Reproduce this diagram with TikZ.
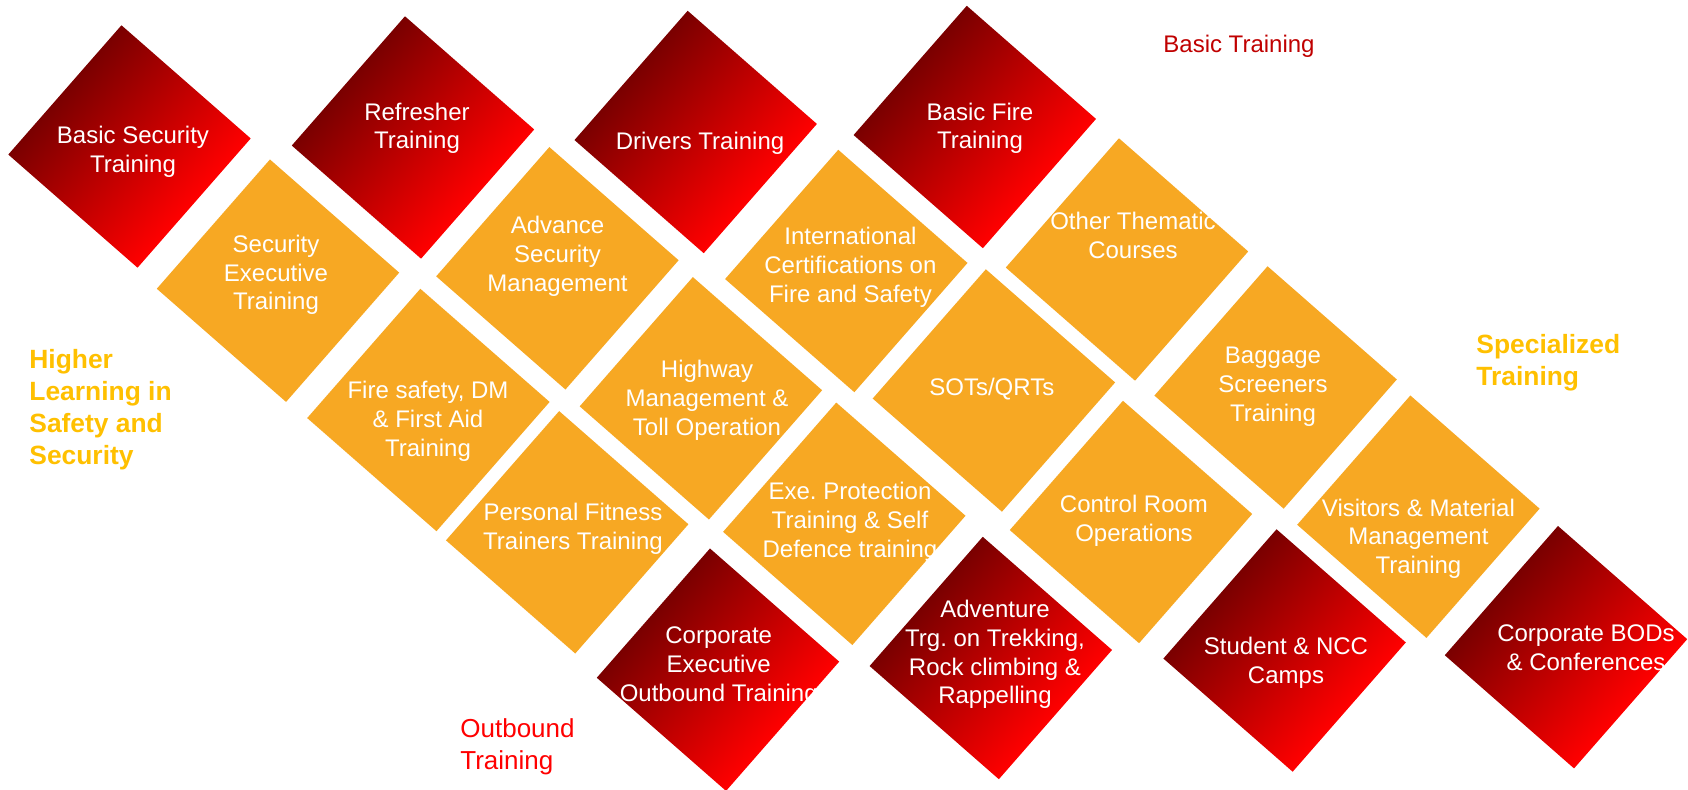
\documentclass[tikz,border=0pt]{standalone}
\usepackage{fontspec}
\setmainfont{Liberation Sans}
\definecolor{org}{HTML}{F7A823}
\definecolor{rdark}{HTML}{7A0000}
\definecolor{rlight}{HTML}{FF0000}
\definecolor{labred}{HTML}{C00000}
\definecolor{labyel}{HTML}{FFC000}
\definecolor{outred}{HTML}{FF0000}
\tikzset{
  dtext/.style={text=white, font=\fontsize{12}{14.4}\selectfont, align=center, inner sep=0pt, yshift=-1pt,
    execute at begin node=\strut, execute at end node=\strut},
  yellab/.style={text=labyel, font=\bfseries\fontsize{13.2}{15.9}\selectfont, align=left, inner sep=0pt,
    anchor=west, yshift=-1pt, execute at begin node=\strut, execute at end node=\strut},
  outlab/.style={text=outred, font=\fontsize{13}{16}\selectfont, align=left, inner sep=0pt,
    anchor=west, yshift=-1pt, execute at begin node=\strut, execute at end node=\strut},
  toplab/.style={text=labred, font=\fontsize{12}{14.4}\selectfont, inner sep=0pt, anchor=base west, yshift=-0.5pt}
}
\newcommand\reddia[2]{%
  \begin{scope}[transform canvas={shift={(#1,-#2)},rotate=-41.2}]
    \shade[left color=rdark,right color=rlight] (-85.9,-85.9) rectangle (85.9,85.9);
  \end{scope}}
\newcommand\orgdia[2]{%
  \begin{scope}[transform canvas={shift={(#1,-#2)},rotate=-41.2}]
    \fill[org] (-85.9,-85.9) rectangle (85.9,85.9);
  \end{scope}}
\begin{document}
\begin{tikzpicture}[x=0.5pt,y=0.5pt]
\useasboundingbox[fill=white] (0,0) rectangle (1688,-790);
% red diamonds, top row
\reddia{129.5}{146.5}
\reddia{413}{137.5}
\reddia{695.7}{132}
\reddia{974.8}{127}
% orange diamonds
\orgdia{278}{280.7}
\orgdia{557.4}{268.3}
\orgdia{846.3}{271}
\orgdia{1127}{259.5}
\orgdia{428.4}{410}
\orgdia{700.9}{398.3}
\orgdia{993.9}{390.5}
\orgdia{1275.6}{387.5}
\orgdia{567.2}{532.3}
\orgdia{844.3}{523.8}
\orgdia{1131}{522}
\orgdia{1418.4}{516.7}
% red diamonds, bottom row
\reddia{718}{669.7}
\reddia{990.8}{658}
\reddia{1284.6}{650.5}
\reddia{1566}{647.2}
% texts
\node[dtext] (bst) at (133,-151.7) {Basic Security\\Training};
\node[dtext] (ref) at (417,-128.2) {Refresher\\Training};
\node[dtext] (drv) at (700,-141.4) {Drivers Training};
\node[dtext] (bft) at (980,-128.2) {Basic Fire\\Training};
\node[dtext] (set) at (276,-274.7) {Security\\Executive\\Training};
\node[dtext] (asm) at (557.5,-256.4) {Advance\\Security\\Management};
\node[dtext] (icf) at (850.4,-267) {International\\Certifications on\\Fire and Safety};
\node[dtext] (otc) at (1133,-238) {Other Thematic\\Courses};
\node[dtext] (fsd) at (428,-421) {Fire safety, DM\\\& First Aid\\Training};
\node[dtext] (hmt) at (707,-400.2) {Highway\\Management \&\\Toll Operation};
\node[dtext] (sot) at (991.8,-387.4) {SOTs/QRTs};
\node[dtext] (bag) at (1273,-386.7) {Baggage\\Screeners\\Training};
\node[dtext] (pft) at (573,-528.4) {Personal Fitness\\Trainers Training};
\node[dtext] (epr) at (850,-522.2) {Exe.\ Protection\\Training \& Self\\Defence training};
\node[dtext] (cro) at (1134,-520.6) {Control Room\\Operations};
\node[dtext] (vmm) at (1418.4,-538.6) {Visitors \& Material\\Management\\Training};
\node[dtext] (ceo) at (718.7,-666.3) {Corporate\\Executive\\Outbound Training};
\node[dtext] (adv) at (995,-654.3) {Adventure\\Trg.\ on Trekking,\\Rock climbing \&\\Rappelling};
\node[dtext] (snc) at (1286,-662.3) {Student \& NCC\\Camps};
\node[dtext] (bod) at (1586,-649.8) {Corporate BODs\\\& Conferences};
% category labels
\node[toplab] (lbasic) at (1163,-52) {Basic Training};
\node[yellab] (lspec) at (1476,-362.4) {Specialized\\Training};
\node[yellab] (lhigh) at (29,-409.8) {Higher\\Learning in\\Safety and\\Security};
\node[outlab] (lout) at (460,-746.6) {Outbound\\Training};
\end{tikzpicture}
\end{document}
